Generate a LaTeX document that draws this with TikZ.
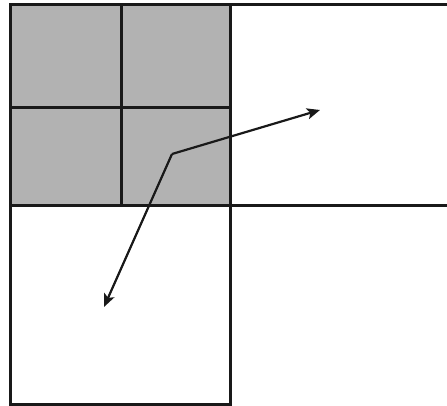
\documentclass[tikz,border=0pt]{standalone}
\usetikzlibrary{arrows.meta}
\begin{document}
\begin{tikzpicture}[x=1pt,y=-1pt,
  frame/.style={draw=black!90,line width=3pt},
  conn/.style={draw=black!90,line width=2.2pt,-{Stealth[length=13pt,width=11pt,inset=3pt]}}]
\useasboundingbox (0,0) rectangle (447,406);
% grey 2x2 block
\fill[gray!60] (10,5) rectangle (230,206);
\draw[frame] (10,5) rectangle (230,206);
\draw[frame] (121,5) -- (121,206);
\draw[frame] (10,108) -- (230,108);
% right band
\draw[frame] (230,5) -- (447,5);
\draw[frame] (230,206) -- (447,206);
% bottom box
\draw[frame] (10,206) rectangle (230,404);
% arrows
\coordinate (c) at (172,154);
\coordinate (r) at (320,110);
\coordinate (b) at (104,307);
\draw[conn] (c) -- (r);
\draw[conn] (c) -- (b);
\end{tikzpicture}
\end{document}
